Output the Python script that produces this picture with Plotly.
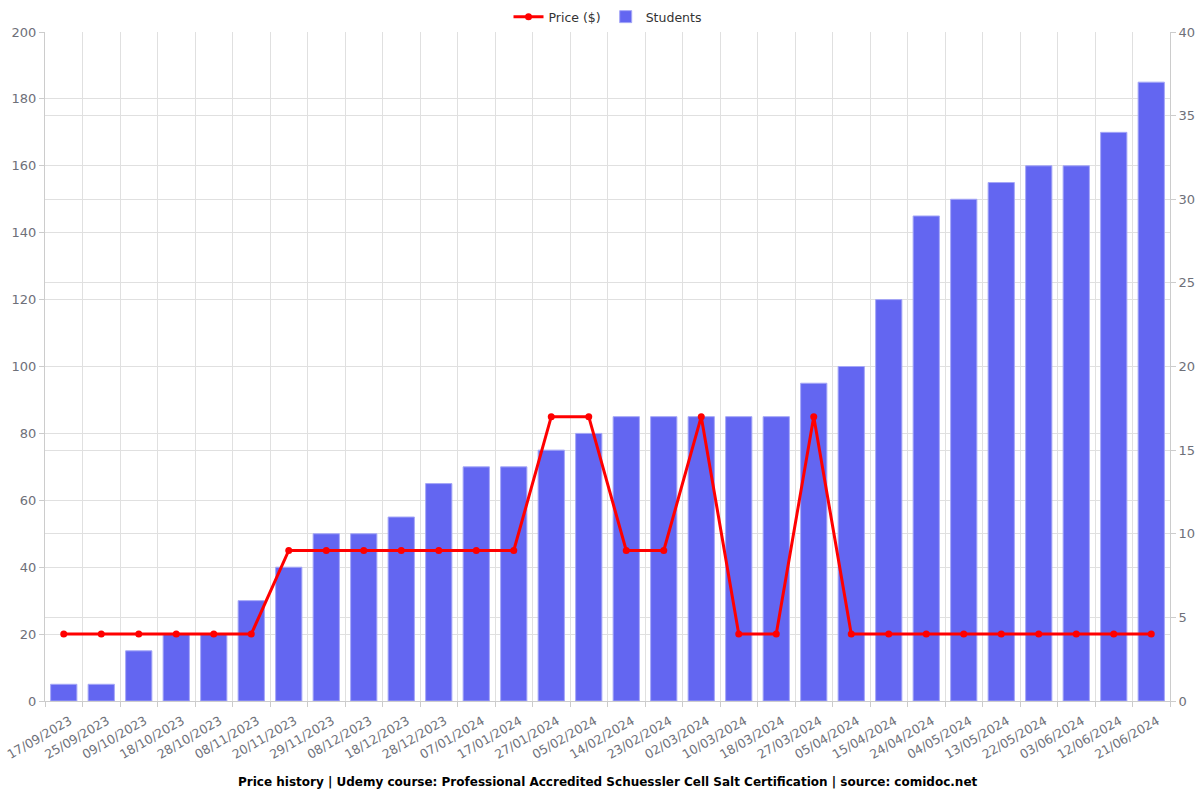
import plotly.graph_objects as go

dates = ["17/09/2023", "25/09/2023", "09/10/2023", "18/10/2023", "28/10/2023", "08/11/2023",
         "20/11/2023", "29/11/2023", "08/12/2023", "18/12/2023", "28/12/2023", "07/01/2024",
         "17/01/2024", "27/01/2024", "05/02/2024", "14/02/2024", "23/02/2024", "02/03/2024",
         "10/03/2024", "18/03/2024", "27/03/2024", "05/04/2024", "15/04/2024", "24/04/2024",
         "04/05/2024", "13/05/2024", "22/05/2024", "03/06/2024", "12/06/2024", "21/06/2024"]
students = [1, 1, 3, 4, 4, 6, 8, 10, 10, 11, 13, 14, 14, 15, 16, 17, 17, 17, 17, 17,
            19, 20, 24, 29, 30, 31, 32, 32, 34, 37]
price = [20, 20, 20, 20, 20, 20, 45, 45, 45, 45, 45, 45, 45, 85, 85, 45, 45, 85, 20, 20,
         85, 20, 20, 20, 20, 20, 20, 20, 20, 20]

title = "Price history | Udemy course: Professional Accredited Schuessler Cell Salt Certification | source: comidoc.net"

FONT = "DejaVu Sans"
TXT = "#6e7079"
GRID = "#e0e0e0"

fig = go.Figure()
fig.add_trace(go.Bar(
    x=dates, y=students, name="Students", yaxis="y",
    marker=dict(color="#6366f1", line=dict(color="#a5a7f7", width=1)),
))
fig.add_trace(go.Scatter(
    x=dates, y=price, name="Price ($)", yaxis="y2", mode="lines+markers",
    line=dict(color="#ff0000", width=3), marker=dict(color="#ff0000", size=7),
))

fig.update_layout(
    width=1200, height=800,
    margin=dict(l=45, r=30, t=32, b=99, autoexpand=False),
    paper_bgcolor="white", plot_bgcolor="white",
    font=dict(family=FONT, size=12, color=TXT),
    bargap=0.3,
    showlegend=True,
    legend=dict(orientation="h", x=0.5, xanchor="center", y=1.0, yanchor="bottom",
                traceorder="reversed", font=dict(size=12.5, color="#333333")),
    xaxis=dict(type="category", tickson="boundaries", ticks="outside", ticklen=5,
               tickcolor="#cccccc", showgrid=True, gridcolor=GRID, showline=True,
               linecolor="#cccccc", tickangle=-30, tickfont=dict(size=12.5, color=TXT),
               ticklabelshift=6, ticklabelstandoff=7,
               range=[-0.5, len(dates) - 0.5], automargin=False),
    yaxis=dict(side="right", range=[0, 40], dtick=5, showgrid=True, gridcolor=GRID,
               showline=True, linecolor="#cccccc", ticks="outside", ticklen=5,
               tickcolor="#cccccc", zeroline=False, tickfont=dict(size=13, color=TXT),
               automargin=False),
    yaxis2=dict(side="left", overlaying="y", range=[0, 200], dtick=20, showgrid=True,
                gridcolor=GRID, showline=True, linecolor="#cccccc", ticks="outside",
                ticklen=5, tickcolor="#cccccc", zeroline=False,
                tickfont=dict(size=13, color=TXT), automargin=False),
    annotations=[dict(text="<b>" + title + "</b>", x=0.5, xref="paper", y=-0.121,
                      yref="paper", yanchor="middle", showarrow=False,
                      font=dict(family=FONT, size=12, color="#000000"))],
)

fig.write_html("out.html")
